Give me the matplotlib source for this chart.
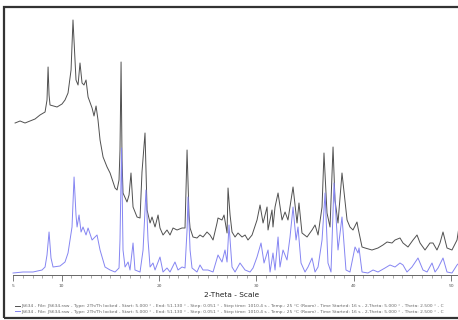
import matplotlib
matplotlib.use("Agg")
import matplotlib.pyplot as plt
from matplotlib.patches import Rectangle

# XRD scans: (2-theta in degrees, Lin counts)
black_scan = [
    (5.21, 1520), (5.72, 1540), (6.23, 1520), (6.75, 1540), (7.26, 1560),
    (7.77, 1600), (8.29, 1630), (8.49, 1750), (8.60, 2080), (8.70, 1800),
    (8.80, 1700), (9.52, 1680), (10.03, 1710), (10.34, 1750), (10.65, 1820),
    (10.96, 2050), (11.16, 2550), (11.37, 2150), (11.47, 1950), (11.68, 1900),
    (11.88, 2120), (12.09, 1920), (12.29, 1900), (12.50, 1950), (12.71, 1780),
    (13.12, 1670), (13.32, 1590), (13.53, 1690), (13.73, 1550), (13.94, 1350),
    (14.25, 1180), (14.66, 1080), (14.97, 1020), (15.48, 870), (15.69, 850),
    (15.89, 950), (15.99, 1250), (16.10, 2130), (16.20, 1150), (16.30, 820),
    (16.71, 730), (16.92, 800), (17.12, 1020), (17.33, 680), (17.74, 580),
    (18.05, 570), (18.25, 1030), (18.56, 1420), (18.77, 650), (19.08, 520),
    (19.28, 580), (19.59, 480), (19.90, 600), (20.10, 470), (20.41, 400),
    (20.82, 450), (21.13, 400), (21.44, 470), (21.85, 450), (22.36, 470),
    (22.67, 470), (22.88, 1250), (23.08, 600), (23.19, 470), (23.49, 380),
    (23.90, 370), (24.21, 400), (24.52, 380), (24.93, 430), (25.24, 400),
    (25.55, 350), (25.96, 520), (26.06, 570), (26.47, 550), (26.68, 600),
    (26.99, 420), (27.09, 870), (27.30, 600), (27.50, 430), (27.81, 380),
    (28.12, 420), (28.53, 380), (28.84, 400), (29.14, 350), (29.56, 400),
    (30.07, 550), (30.38, 700), (30.69, 520), (31.10, 680), (31.20, 450),
    (31.61, 650), (31.71, 480), (31.92, 680), (32.23, 820), (32.64, 550),
    (32.95, 630), (33.25, 550), (33.77, 880), (34.18, 520), (34.38, 720),
    (34.69, 420), (35.21, 380), (35.72, 450), (36.03, 500), (36.34, 400),
    (36.75, 680), (36.95, 1220), (37.26, 620), (37.57, 480), (37.88, 1280),
    (38.08, 750), (38.39, 520), (38.80, 1020), (39.32, 550), (39.62, 480),
    (39.93, 450), (40.34, 530), (40.45, 470), (40.86, 280), (41.17, 270),
    (41.88, 250), (42.50, 270), (43.01, 300), (43.43, 330), (43.94, 320),
    (44.25, 350), (44.76, 370), (45.07, 320), (45.58, 280), (46.10, 350),
    (46.51, 400), (46.82, 320), (47.33, 250), (47.84, 320), (48.15, 320),
    (48.56, 250), (48.87, 320), (49.18, 430), (49.59, 270), (50.10, 250),
    (50.62, 350), (50.93, 550),
]

blue_scan = [
    (5.00, 20), (6.03, 30), (7.05, 30), (7.98, 50), (8.29, 80), (8.49, 200),
    (8.70, 430), (8.90, 170), (9.11, 80), (9.83, 90), (10.34, 130),
    (10.65, 220), (11.06, 480), (11.27, 980), (11.47, 600), (11.58, 480),
    (11.78, 600), (11.99, 430), (12.19, 480), (12.50, 400), (12.71, 470),
    (13.12, 350), (13.42, 380), (13.63, 400), (13.94, 250), (14.45, 80),
    (14.97, 50), (15.48, 30), (15.89, 70), (15.99, 350), (16.15, 1270),
    (16.30, 250), (16.51, 80), (16.82, 130), (17.02, 50), (17.33, 320),
    (17.53, 50), (18.05, 30), (18.36, 250), (18.66, 850), (18.87, 350),
    (19.08, 80), (19.38, 120), (19.59, 50), (20.10, 180), (20.41, 30),
    (20.82, 70), (21.13, 30), (21.64, 130), (21.95, 50), (22.36, 80),
    (22.67, 70), (22.88, 450), (22.98, 780), (23.19, 250), (23.39, 70),
    (23.90, 30), (24.21, 100), (24.52, 50), (25.03, 50), (25.55, 30),
    (26.06, 200), (26.47, 130), (26.78, 250), (26.99, 130), (27.19, 500),
    (27.50, 80), (27.81, 30), (28.32, 120), (28.84, 50), (29.35, 30),
    (29.66, 70), (30.07, 180), (30.48, 320), (30.79, 120), (31.20, 250),
    (31.41, 30), (31.71, 220), (31.92, 50), (32.23, 380), (32.43, 80),
    (32.74, 250), (33.15, 150), (33.46, 380), (33.77, 680), (34.08, 350),
    (34.28, 480), (34.59, 120), (35.00, 30), (35.31, 80), (35.72, 170),
    (36.03, 30), (36.34, 80), (36.75, 350), (37.06, 820), (37.36, 120),
    (37.67, 30), (37.98, 920), (38.39, 250), (38.80, 580), (39.21, 50),
    (39.62, 30), (39.93, 180), (40.14, 280), (40.45, 220), (40.55, 270),
    (40.86, 30), (41.47, 20), (41.99, 50), (42.50, 30), (43.22, 70),
    (43.73, 100), (44.25, 80), (44.76, 120), (45.07, 100), (45.48, 30),
    (45.99, 80), (46.61, 170), (47.12, 50), (47.54, 30), (48.05, 120),
    (48.36, 30), (48.67, 70), (49.18, 170), (49.59, 30), (50.10, 20),
    (50.62, 100), (50.93, 130),
]

tick_values = [5, 10, 20, 30, 40, 50]
tick_labels = ["5", "10", "20", "30", "40", "50"]
scan_info = ("JS634 - File: JS634.raw - Type: 2Th/Th locked - Start: 5.000 \u00b0 - "
             "End: 51.130 \u00b0 - Step: 0.051 \u00b0 - Step time: 1010.4 s - "
             "Temp.: 25 \u00b0C (Room) - Time Started: 16 s - 2-Theta: 5.000 \u00b0 - "
             "Theta: 2.500 \u00b0 - C")

fig = plt.figure(figsize=(4.58, 3.2), dpi=100)
ax = fig.add_axes([0, 0, 1, 1])
ax.set_xlim(3.66, 50.72)
ax.set_ylim(-450, 2750)
ax.patch.set_alpha(0)

bx, by = zip(*black_scan)
ux, uy = zip(*blue_scan)
l1, = ax.plot(bx, by, color="#505050", lw=0.7)
l2, = ax.plot(ux, uy, color="#8585f2", lw=0.7)

for s in ["top", "left", "right"]:
    ax.spines[s].set_visible(False)
ax.spines["bottom"].set_position(("data", 0))
ax.spines["bottom"].set_bounds(5, 51)
ax.spines["bottom"].set_color("#666666")
ax.spines["bottom"].set_linewidth(0.7)
ax.set_yticks([])
ax.set_xticks(tick_values)
ax.set_xticklabels(tick_labels)
ax.set_xticks(range(5, 51), minor=True)
ax.tick_params(axis="x", which="major", direction="out", length=4, width=0.6,
               color="#666666", labelsize=3.2, labelcolor="#555555", pad=2.5)
ax.tick_params(axis="x", which="minor", direction="out", length=2, width=0.5,
               color="#888888")

fig.text(232 / 458, 1 - 295 / 320, "2-Theta - Scale", ha="center", va="center",
         fontsize=5.3, color="#222222")

ax.legend([l1, l2], [scan_info, scan_info], loc="lower left",
          bbox_to_anchor=(13 / 458, 4 / 320), fontsize=3.15, frameon=False,
          handlelength=1.0, handletextpad=0.4, labelspacing=0.35,
          borderpad=0, labelcolor="#666666")

fig.patches.append(Rectangle((4 / 458, 2 / 320), 1.2, 311.5 / 320,
                             transform=fig.transFigure, fill=False,
                             edgecolor="#333333", lw=1.6))

fig.savefig("out.png", dpi=100)
